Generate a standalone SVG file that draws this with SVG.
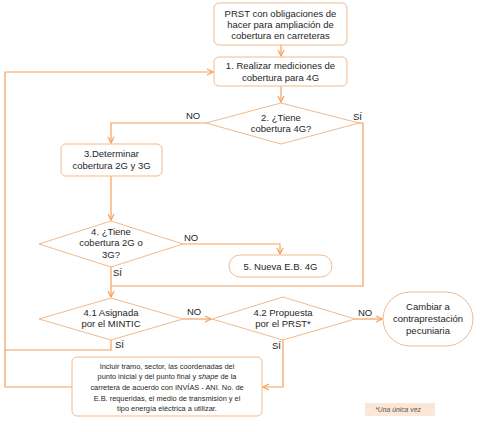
<svg xmlns="http://www.w3.org/2000/svg" width="483" height="432" viewBox="0 0 483 432">
<style>
.n{fill:#fff;stroke:#f2b98a;stroke-width:1}
.c{fill:none;stroke:#f4a15d;stroke-width:1.2}
text{font-family:"Liberation Sans",Arial,sans-serif;font-size:9.5px;fill:#262626;text-anchor:middle}
.lb{text-anchor:start}
.sm{font-size:7.4px}
.note{font-size:6.8px;font-style:italic;fill:#555}
</style>
<defs>
<marker id="a" markerWidth="8" markerHeight="8" refX="7" refY="4" orient="auto" markerUnits="userSpaceOnUse">
<path d="M1,1 L7,4 L1,7" fill="none" stroke="#f4a15d" stroke-width="1.2"/>
</marker>
</defs>
<rect width="483" height="432" fill="#fff"/>
<g id="connectors">
<path class="c" d="M281,45 V56" marker-end="url(#a)"/>
<path class="c" d="M281,86 V102" marker-end="url(#a)"/>
<path class="c" d="M206,123 H111 V143" marker-end="url(#a)"/>
<path class="c" d="M359,123 H363 V286 H111"/>
<path class="c" d="M111,176 V220" marker-end="url(#a)"/>
<path class="c" d="M183,244 H280 V254" marker-end="url(#a)"/>
<path class="c" d="M111,267 V297" marker-end="url(#a)"/>
<path class="c" d="M183,319 H211" marker-end="url(#a)"/>
<path class="c" d="M355,319 H382" marker-end="url(#a)"/>
<path class="c" d="M283,340 V387 H263" marker-end="url(#a)"/>
<path class="c" d="M111,340 V350 H5"/>
<path class="c" d="M72,387 H5 V72 H213" marker-end="url(#a)"/>
<text class="lb" x="186" y="119">NO</text>
<text class="lb" x="353" y="120">SÍ</text>
<text class="lb" x="184" y="241">NO</text>
<text class="lb" x="113" y="276">SÍ</text>
<text class="lb" x="187" y="315">NO</text>
<text class="lb" x="358" y="316">NO</text>
<text class="lb" x="115" y="348">SÍ</text>
<text class="lb" x="272" y="349">SÍ</text>
</g>
<g id="start">
<rect class="n" x="214" y="3" width="133" height="42" rx="5"/>
<text x="280.5" y="17">PRST con obligaciones de</text>
<text x="280.5" y="28">hacer para ampliación de</text>
<text x="280.5" y="39">cobertura en carreteras</text>
</g>
<g id="n1">
<rect class="n" x="214" y="57" width="133" height="29" rx="5"/>
<text x="280.5" y="69">1. Realizar mediciones de</text>
<text x="280.5" y="81">cobertura para 4G</text>
</g>
<g id="n2">
<polygon class="n" points="281,103 359,123 281,144 206,123"/>
<text x="281" y="121">2. ¿Tiene</text>
<text x="281" y="132">cobertura 4G?</text>
</g>
<g id="n3">
<rect class="n" x="61" y="144" width="101" height="32" rx="5"/>
<text x="111.5" y="157">3.Determinar</text>
<text x="111.5" y="169">cobertura 2G y 3G</text>
</g>
<g id="n4">
<polygon class="n" points="111,221 183,244 111,267 39,244"/>
<text x="111" y="235">4. ¿Tiene</text>
<text x="111" y="246">cobertura 2G o</text>
<text x="111" y="258">3G?</text>
</g>
<g id="n5">
<rect class="n" x="229" y="255" width="103" height="22" rx="11"/>
<text x="280.5" y="270">5. Nueva E.B. 4G</text>
</g>
<g id="n41">
<polygon class="n" points="111,298 183,319 111,340 39,319"/>
<text x="111" y="316">4.1 Asignada</text>
<text x="111" y="327">por el MINTIC</text>
</g>
<g id="n42">
<polygon class="n" points="283,297 355,319 283,340 212,319"/>
<text x="283" y="316">4.2 Propuesta</text>
<text x="283" y="327">por el PRST*</text>
</g>
<g id="change">
<rect class="n" x="383" y="292" width="90" height="54" rx="27"/>
<text x="428" y="310">Cambiar a</text>
<text x="428" y="322">contraprestación</text>
<text x="428" y="334">pecuniaria</text>
</g>
<g id="detail">
<rect class="n" x="72" y="357" width="190" height="59" rx="5"/>
<text class="sm" x="167" y="369">Incluir tramo, sector, las coordenadas del</text>
<text class="sm" x="167" y="379">punto inicial y del punto final y <tspan font-style="italic">shape</tspan> de la</text>
<text class="sm" x="167" y="390">carretera de acuerdo con INVÍAS - ANI. No. de</text>
<text class="sm" x="167" y="401">E.B. requeridas, el medio de transmisión y el</text>
<text class="sm" x="167" y="411">tipo energía eléctrica a utilizar.</text>
</g>
<g id="note">
<rect x="365" y="403" width="70" height="13" fill="#fce6d6"/>
<text class="note" x="398" y="412">*Una única vez</text>
</g>
</svg>
